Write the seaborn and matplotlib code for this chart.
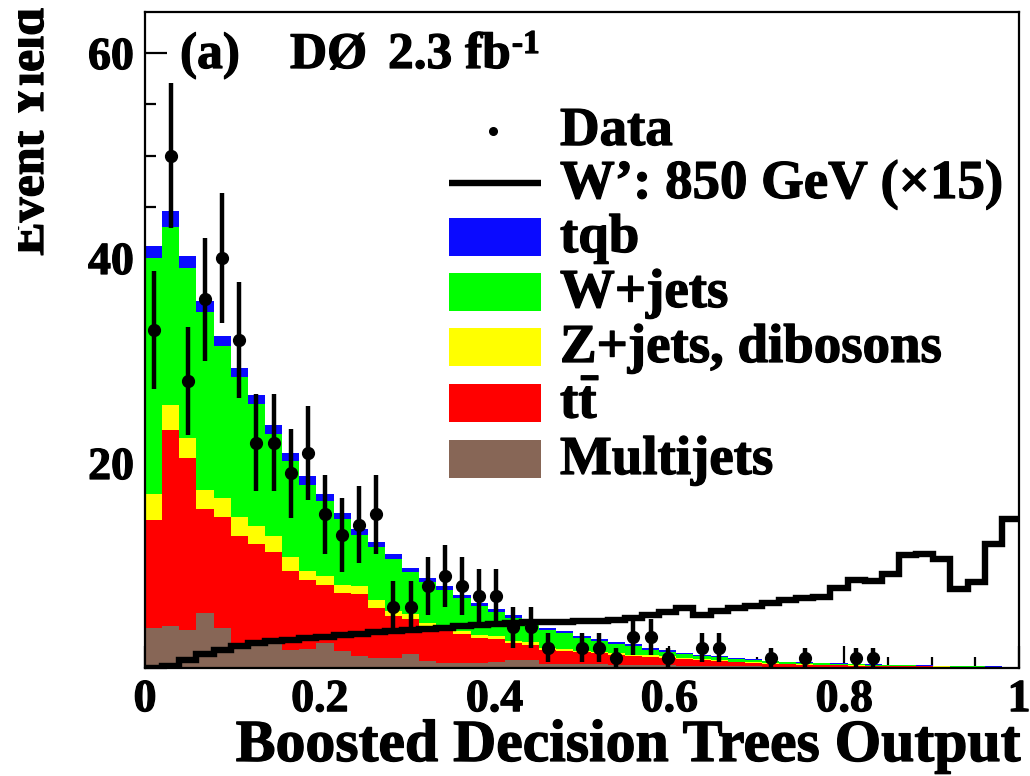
import numpy as np
import pandas as pd
import matplotlib
matplotlib.use("Agg")
import matplotlib.pyplot as plt
from matplotlib.patches import Rectangle
from matplotlib.lines import Line2D
from matplotlib.ticker import MultipleLocator, FuncFormatter
from matplotlib.transforms import Bbox
import matplotlib.patheffects as pe
import seaborn as sns

# ---- binning: 51 equal bins on [0, 1] ----
n_bins = 51
edges = np.linspace(0.0, 1.0, n_bins + 1)
centers = 0.5 * (edges[:-1] + edges[1:])

# ---- predicted yields per process (per bin) ----
multijets = [3.9, 4.1, 3.7, 5.4, 3.9, 2.2, 2.3, 2.6, 1.8, 1.9,
             2.4, 1.7, 1.2, 1.0, 1.0, 1.4, 0.7, 0.5, 0.5, 0.5,
             0.6, 0.8, 0.8, 0.4, 0.4, 0.35, 0.35, 0.3, 0.3, 0.25,
             0.25, 0.2, 0.2, 0.2, 0.15, 0.15, 0.12, 0.1, 0.1, 0.08,
             0.08, 0.07, 0.06, 0.05, 0.05, 0.04, 0.04, 0.03, 0.03, 0.02,
             0.02]
ttbar = [10.5, 19.1, 16.8, 10.1, 10.8, 10.7, 9.8, 8.7, 7.7, 6.7,
         5.7, 5.6, 6.0, 4.9, 4.1, 3.4, 3.3, 3.1, 2.8, 2.4,
         2.2, 1.6, 1.45, 1.35, 1.3, 1.2, 1.1, 1.0, 0.85, 0.85,
         0.75, 0.7, 0.55, 0.45, 0.4, 0.33, 0.28, 0.25, 0.2, 0.2,
         0.18, 0.17, 0.15, 0.14, 0.12, 0.11, 0.09, 0.09, 0.07, 0.07,
         0.05]
zjets_dibosons = [2.6, 2.5, 1.9, 1.9, 1.9, 1.8, 1.8, 1.6, 1.3, 0.9,
                  0.9, 0.8, 0.8, 0.7, 0.5, 0.5, 0.35, 0.3, 0.3, 0.35,
                  0.35, 0.25, 0.25, 0.2, 0.15, 0.15, 0.15, 0.15, 0.15, 0.15,
                  0.15, 0.1, 0.1, 0.1, 0.07, 0.07, 0.05, 0.05, 0.05, 0.04,
                  0.04, 0.03, 0.03, 0.03, 0.03, 0.03, 0.03, 0.02, 0.02, 0.01,
                  0.01]
wjets = [23.0, 17.3, 16.6, 17.3, 14.8, 13.7, 11.9, 9.9, 9.4, 8.4,
         7.3, 6.4, 5.0, 5.2, 5.0, 4.1, 4.05, 3.7, 3.2, 2.8,
         2.3, 2.25, 1.65, 1.75, 1.55, 1.25, 1.0, 0.9, 0.8, 0.55,
         0.45, 0.4, 0.33, 0.32, 0.3, 0.25, 0.23, 0.18, 0.17, 0.15,
         0.12, 0.11, 0.1, 0.08, 0.06, 0.05, 0.04, 0.04, 0.04, 0.04,
         0.03]
tqb = [1.2, 1.6, 1.2, 1.1, 1.0, 0.9, 0.8, 0.9, 0.8, 0.8,
       0.7, 0.6, 0.6, 0.5, 0.5, 0.4, 0.4, 0.4, 0.35, 0.3,
       0.3, 0.25, 0.25, 0.2, 0.2, 0.2, 0.2, 0.2, 0.2, 0.15,
       0.15, 0.1, 0.09, 0.08, 0.06, 0.05, 0.04, 0.04, 0.03, 0.03,
       0.03, 0.02, 0.02, 0.02, 0.02, 0.02, 0.02, 0.02, 0.01, 0.01,
       0.01]

# ---- W' (850 GeV) signal, scaled by 15 ----
wprime_850_x15 = [0.0, 0.2, 0.8, 1.35, 1.8, 2.15, 2.4, 2.6, 2.75, 2.9,
                  3.05, 3.2, 3.35, 3.5, 3.6, 3.75, 3.85, 3.95, 4.05, 4.15,
                  4.3, 4.4, 4.5, 4.45, 4.45, 4.55, 4.6, 4.7, 4.85, 5.2,
                  5.45, 5.85, 5.2, 5.55, 5.85, 6.05, 6.3, 6.65, 6.85, 6.9,
                  7.8, 8.6, 8.5, 9.2, 11.0, 11.1, 10.6, 7.7, 8.4, 12.1,
                  14.55]

# ---- observed events ----
data_counts = [33, 50, 28, 36, 40, 32, 22, 22, 19, 21,
               15, 13, 14, 15, 6, 6, 8, 9, 8, 7,
               7, 4, 4, 2, 0, 2, 2, 1, 3, 3,
               1, 0, 2, 2, 0, 0, 1, 0, 1, 0,
               0, 1, 1, 0, 0, 0, 0, 0, 0, 0,
               0]

x_tick_labels = ["0", "0.2", "0.4", "0.6", "0.8", "1"]

# stacking order: first level ends on top, last level at the bottom
processes = ["tqb", "W+jets", "Z+jets, dibosons", "ttbar", "Multijets"]
yields = {"tqb": tqb, "W+jets": wjets, "Z+jets, dibosons": zjets_dibosons,
          "ttbar": ttbar, "Multijets": multijets}
palette = {"tqb": "#0a0aff", "W+jets": "#00ff00", "Z+jets, dibosons": "#ffff00",
           "ttbar": "#ff0000", "Multijets": "#876656"}

df = pd.concat(
    [pd.DataFrame({"bdt": centers, "yield": yields[p], "process": p}) for p in processes],
    ignore_index=True,
)
sig = pd.DataFrame({"bdt": centers, "yield": wprime_850_x15})

sns.set_theme(style="ticks")
plt.rcParams["font.family"] = ["Liberation Serif", "DejaVu Serif"]
plt.rcParams["font.weight"] = "bold"
plt.rcParams["mathtext.fontset"] = "custom"
plt.rcParams["mathtext.rm"] = "Liberation Serif:bold"
plt.rcParams["mathtext.it"] = "Liberation Serif:bold"
plt.rcParams["mathtext.bf"] = "Liberation Serif:bold"
plt.rcParams["text.color"] = "black"
plt.rcParams["axes.edgecolor"] = "black"
plt.rcParams["xtick.color"] = "black"
plt.rcParams["ytick.color"] = "black"

# slightly heavier glyphs for the bold serif labels
heavy = [pe.withStroke(linewidth=0.9, foreground="black")]

W, H = 1030, 776
fig = plt.figure(figsize=(W / 100, H / 100), dpi=100)
fig.patch.set_facecolor("white")


def fx(px):
    return px / W


def fy(py):
    return 1.0 - py / H


ax = fig.add_axes([fx(145), fy(668), fx(1019) - fx(145), fy(12) - fy(668)])
ax.set_facecolor("white")

# stacked backgrounds
sns.histplot(data=df, x="bdt", weights="yield", hue="process", hue_order=processes,
             bins=n_bins, binrange=(0.0, 1.0), multiple="stack", element="step",
             fill=True, alpha=1.0, linewidth=0, palette=palette, legend=False, ax=ax)

# signal outline
sns.histplot(data=sig, x="bdt", weights="yield", bins=n_bins, binrange=(0.0, 1.0),
             element="step", fill=False, color="black", linewidth=4.6, ax=ax,
             solid_joinstyle="miter", solid_capstyle="butt", zorder=4)

# data with Poisson errors
counts = np.asarray(data_counts, dtype=float)
shown = counts > 0
ax.errorbar(centers[shown], counts[shown], yerr=np.sqrt(counts[shown]), fmt="o",
            color="black", markersize=8.5, elinewidth=3.2, capsize=0, zorder=6)

ax.set_xlim(0, 1)
ax.set_ylim(0, 64)
ax.set_xlabel("")
ax.set_ylabel("")

ax.xaxis.set_major_locator(MultipleLocator(0.2))
ax.xaxis.set_minor_locator(MultipleLocator(0.05))
ax.yaxis.set_major_locator(MultipleLocator(20))
ax.yaxis.set_minor_locator(MultipleLocator(5))
ax.xaxis.set_major_formatter(FuncFormatter(
    lambda v, pos: x_tick_labels[int(round(v / 0.2))] if 0 <= round(v / 0.2) < len(x_tick_labels) else ""))
ax.yaxis.set_major_formatter(FuncFormatter(lambda v, pos: "" if abs(v) < 1e-9 else f"{v:g}"))

ax.tick_params(which="both", direction="in", top=False, right=False, width=1.6)
ax.tick_params(which="major", length=16, labelsize=33, pad=8)
ax.tick_params(which="minor", length=8)
for lab in ax.get_xticklabels() + ax.get_yticklabels():
    lab.set_fontweight("bold")
    lab.set_path_effects(heavy)
for sp in ax.spines.values():
    sp.set_linewidth(1.6)
    sp.set_visible(True)
    sp.set_color("black")

# axis titles
fig.text(fx(1020), fy(761), "Boosted Decision Trees Output", ha="right", va="baseline",
         fontsize=43, fontweight="bold", path_effects=heavy)
# y title runs off the left edge of the canvas; only its lower part shows
ylab = fig.text(fx(43), fy(8), "Event Yield", rotation=90, rotation_mode="anchor",
                ha="right", va="baseline", fontsize=36, fontweight="bold",
                path_effects=heavy, clip_on=True)
ylab.set_clip_box(Bbox.from_extents(18, 0, W, H))

# experiment label
fig.text(fx(180), fy(68), "(a)", ha="left", va="baseline", fontsize=37,
         fontweight="bold", path_effects=heavy)
fig.text(fx(290), fy(68), "DØ", ha="left", va="baseline", fontsize=37,
         fontweight="bold", path_effects=heavy)
lumi = fig.text(fx(388), fy(68), "2.3 fb", ha="left", va="baseline", fontsize=37,
                fontweight="bold", path_effects=heavy)
fig.canvas.draw()
bb = lumi.get_window_extent()
fig.text(bb.x1 / W + 0.001, fy(53), "-1", ha="left", va="baseline", fontsize=24,
         fontweight="bold", path_effects=heavy)

# legend
leg_fs = 39.5
text_x = 560
box_x0, box_x1 = 449, 541
baselines = [145, 198, 252, 307, 362, 418, 474]
labels = ["Data", "W\u2019: 850 GeV (\u00d715)", "tqb", "W+jets", "Z+jets, dibosons",
          r"t$\mathbf{\bar{t}}$", "Multijets"]
fig.add_artist(Line2D([fx(493)], [fy(131)], marker="o", markersize=5.5, color="black",
                      linestyle="none", transform=fig.transFigure))
fig.add_artist(Line2D([fx(box_x0), fx(box_x1)], [fy(183), fy(183)], color="black",
                      linewidth=4.6, solid_capstyle="butt", transform=fig.transFigure))
for i, p in enumerate(processes):
    b = baselines[i + 2]
    fig.add_artist(Rectangle((fx(box_x0), fy(b - 15 + 19)), fx(box_x1) - fx(box_x0),
                             fy(b - 15 - 19) - fy(b - 15 + 19), facecolor=palette[p],
                             edgecolor="none", transform=fig.transFigure))
for lab, b in zip(labels, baselines):
    fig.text(fx(text_x), fy(b), lab, ha="left", va="baseline", fontsize=leg_fs,
             fontweight="bold", path_effects=heavy)

fig.savefig("out.png", dpi=100, facecolor="white")
